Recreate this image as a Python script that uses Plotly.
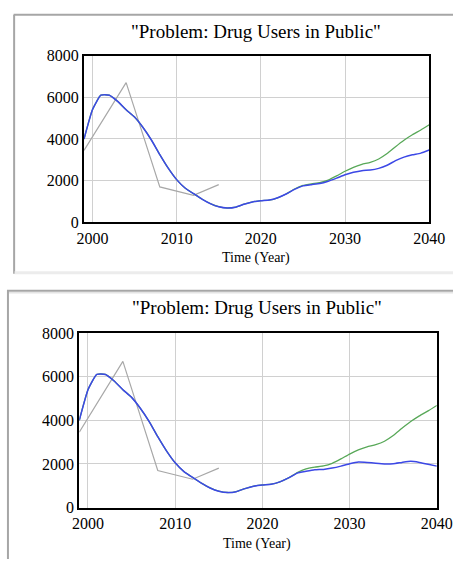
import plotly.graph_objects as go

W, H = 469, 568

# Simulation years 1999..2040
years = list(range(1999, 2041))

# Reference run (shared by both panels up to the mid-2020s)
base_early = [4000, 5400, 6100, 6100, 5800, 5400, 5050, 4550, 3950, 3250,
              2600, 2050, 1650, 1380, 1120, 900, 750, 690, 730, 870,
              980, 1040, 1070, 1180, 1360, 1580]          # 1999..2024

# Policy run, upper panel (2025..2040)
policy_a_late = [1750, 1810, 1860, 1970, 2120, 2280, 2400, 2480, 2510, 2590,
                 2740, 2960, 3130, 3240, 3320, 3470]
# Policy run, lower panel (2025..2040)
policy_b_late = [1660, 1730, 1750, 1810, 1900, 2010, 2090, 2070, 2030, 2000,
                 2010, 2070, 2120, 2070, 1990, 1900]
# Baseline growth run (2025..2040)
growth_late = [1770, 1850, 1910, 2030, 2230, 2450, 2640, 2780, 2880, 3040,
               3300, 3630, 3940, 4200, 4430, 4680]

policy_a = base_early + policy_a_late
policy_b = base_early + policy_b_late
growth = base_early[:-1] + [1600] + growth_late

# Observed data
data_years = [1999, 2004, 2008, 2012, 2015]
data_vals = [3450, 6700, 1700, 1300, 1810]

x_ticks = [2000, 2010, 2020, 2030, 2040]
y_ticks = [0, 2000, 4000, 6000, 8000]

TITLE = '"Problem: Drug Users in Public"'
X_TITLE = "Time (Year)"

SERIF = "Liberation Serif, Times New Roman, serif"
BLUE = "#3c48e6"
GREEN = "#58a858"
GRAY = "#a8a8a8"

fig = go.Figure()

panels = [
    # (xaxis, yaxis, blue series)
    ("x", "y", policy_a),
    ("x2", "y2", policy_b),
]
for xa, ya, blue in panels:
    fig.add_trace(go.Scatter(x=data_years, y=data_vals, mode="lines",
                             line=dict(color=GRAY, width=1.2),
                             xaxis=xa, yaxis=ya, showlegend=False))
    fig.add_trace(go.Scatter(x=years, y=growth, mode="lines",
                             line=dict(color=GREEN, width=1.3, shape="spline", smoothing=0.5),
                             xaxis=xa, yaxis=ya, showlegend=False))
    fig.add_trace(go.Scatter(x=years, y=blue, mode="lines",
                             line=dict(color=BLUE, width=1.5, shape="spline", smoothing=0.4),
                             xaxis=xa, yaxis=ya, showlegend=False))


def px_x(v):
    return v / W


def px_y(v):
    return 1 - v / H


axis_common = dict(
    showgrid=True, gridcolor="#d0d0d0", gridwidth=1,
    showline=True, linecolor="black", linewidth=2, mirror=True,
    ticks="", zeroline=False,
    tickfont=dict(family=SERIF, size=16, color="#000"),
)

fig.update_layout(
    width=W, height=H,
    margin=dict(l=0, r=0, t=0, b=0),
    paper_bgcolor="white", plot_bgcolor="white",
    xaxis=dict(domain=[px_x(81), px_x(444)], range=[1999, 2040],
               tickvals=x_ticks, anchor="y", **axis_common),
    yaxis=dict(domain=[px_y(221), px_y(49)], range=[0, 8000],
               tickvals=y_ticks, anchor="x", **axis_common),
    xaxis2=dict(domain=[px_x(76), px_x(452)], range=[1999, 2040],
                tickvals=x_ticks, anchor="y2", **axis_common),
    yaxis2=dict(domain=[px_y(515), px_y(335)], range=[0, 8000],
                tickvals=y_ticks, anchor="x2", **axis_common),
)

annotations = []
for cx, ty, ay in [(262, 24, 258), (263, 309, 553)]:
    annotations.append(dict(text=TITLE, x=px_x(cx), y=px_y(ty), xref="paper", yref="paper",
                            showarrow=False, xanchor="center", yanchor="middle",
                            font=dict(family=SERIF, size=19, color="#000")))
    annotations.append(dict(text=X_TITLE, x=px_x(cx), y=px_y(ay), xref="paper", yref="paper",
                            showarrow=False, xanchor="center", yanchor="middle",
                            font=dict(family=SERIF, size=14, color="#000")))
fig.update_layout(annotations=annotations)

# Window frames around each panel
frame = "#a6a6a6"
shapes = [
    dict(type="line", xref="paper", yref="paper", x0=px_x(7), x1=1, y0=px_y(7), y1=px_y(7),
         line=dict(color=frame, width=2)),
    dict(type="line", xref="paper", yref="paper", x0=px_x(7.5), x1=px_x(7.5), y0=px_y(7), y1=px_y(274),
         line=dict(color=frame, width=2)),
    dict(type="line", xref="paper", yref="paper", x0=px_x(8), x1=1, y0=px_y(273), y1=px_y(273),
         line=dict(color="#ececec", width=3)),
    dict(type="line", xref="paper", yref="paper", x0=0, x1=1, y0=px_y(291.5), y1=px_y(291.5),
         line=dict(color=frame, width=2)),
    dict(type="line", xref="paper", yref="paper", x0=0, x1=1, y0=px_y(293.5), y1=px_y(293.5),
         line=dict(color="#e4e4e4", width=1.5)),
    dict(type="line", xref="paper", yref="paper", x0=px_x(1), x1=px_x(1), y0=px_y(291), y1=0,
         line=dict(color=frame, width=2)),
]
fig.update_layout(shapes=shapes)

fig.write_html("out.html")
